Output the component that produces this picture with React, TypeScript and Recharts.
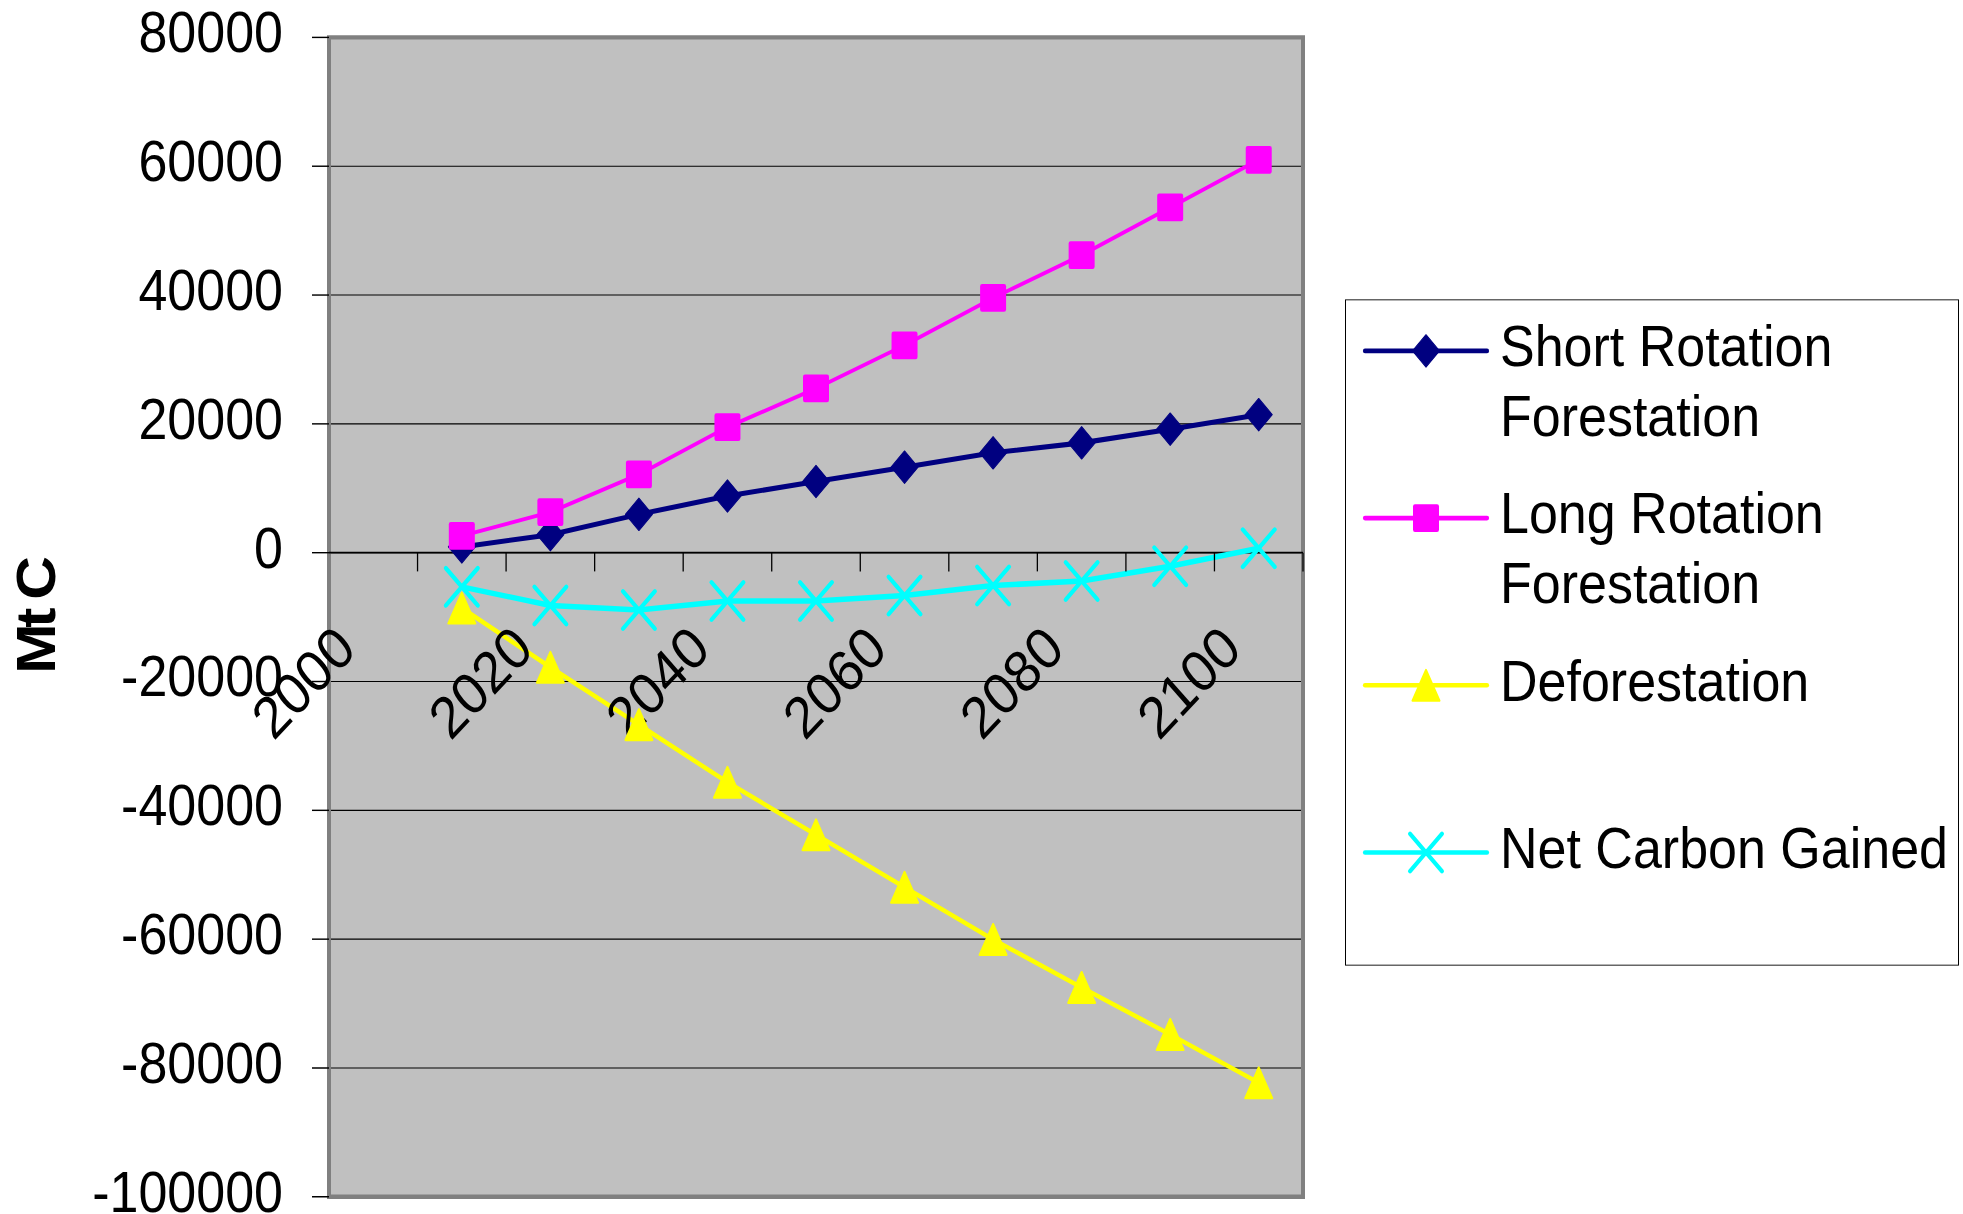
import React from 'react';
import {
  LineChart,
  Line,
  XAxis,
  YAxis,
  CartesianGrid,
  ReferenceLine,
  ReferenceDot,
  ReferenceArea,
  Legend,
} from 'recharts';

const FONT = '"Liberation Sans", Arial, Helvetica, sans-serif';

// carbon stocks per decade, Mt C
const years = [2010, 2020, 2030, 2040, 2050, 2060, 2070, 2080, 2090, 2100];
const shortRotation = [900, 2800, 5950, 8800, 11050, 13280, 15500, 17050, 19180, 21430];
const longRotation = [2600, 6300, 12150, 19500, 25500, 32200, 39550, 46200, 53600, 61000];
const deforestation = [-8600, -17800, -26700, -35650, -43800, -51950, -60050, -67500, -74800, -82300];
const netCarbon = [-5300, -8200, -8900, -7500, -7500, -6650, -5100, -4400, -2100, 700];

const seriesNames = [
  'Short Rotation Forestation',
  'Long Rotation Forestation',
  'Deforestation',
  'Net Carbon Gained',
];

const yTicks = [80000, 60000, 40000, 20000, 0, -20000, -40000, -60000, -80000, -100000];
const yearLabels = [2000, 2020, 2040, 2060, 2080, 2100];
const categoryEdges = [2005, 2015, 2025, 2035, 2045, 2055, 2065, 2075, 2085, 2095, 2105];
const xDomain = [1995, 2105];

// the whole sheet is drawn a bit squat and stretched back up
const STRETCH = 1.1;
const W = 1963;
const H = 1104;

const rows = years.map((year, i) => ({
  year,
  short: shortRotation[i],
  long: longRotation[i],
  defo: deforestation[i],
  net: netCarbon[i],
}));

type MarkerKind = 'diamond' | 'square' | 'triangle' | 'cross';

const series: { key: string; name: string; color: string; marker: MarkerKind; width: number }[] = [
  { key: 'short', name: seriesNames[0], color: '#000080', marker: 'diamond', width: 4.6 },
  { key: 'long', name: seriesNames[1], color: '#FF00FF', marker: 'square', width: 3.6 },
  { key: 'defo', name: seriesNames[2], color: '#FFFF00', marker: 'triangle', width: 4.2 },
  { key: 'net', name: seriesNames[3], color: '#00FFFF', marker: 'cross', width: 5 },
];

const Marker = ({ kind, cx, cy, color }: { kind: MarkerKind; cx: number; cy: number; color: string }) => {
  if (cx == null || cy == null) return null;
  switch (kind) {
    case 'diamond':
      return (
        <polygon
          points={`${cx},${cy - 14.7} ${cx + 13.5},${cy} ${cx},${cy + 14.7} ${cx - 13.5},${cy}`}
          fill={color}
          stroke={color}
          strokeWidth={1}
          strokeLinejoin="round"
        />
      );
    case 'square':
      return <rect x={cx - 13} y={cy - 12.6} width={26} height={25.2} rx={2} fill={color} />;
    case 'triangle':
      return (
        <polygon
          points={`${cx},${cy - 14} ${cx + 13.5},${cy + 14} ${cx - 13.5},${cy + 14}`}
          fill={color}
          stroke={color}
          strokeWidth={2}
          strokeLinejoin="round"
        />
      );
    default:
      return (
        <g stroke={color} strokeWidth={4} strokeLinecap="round">
          <line x1={cx - 16} y1={cy - 17} x2={cx + 16} y2={cy + 17} />
          <line x1={cx - 16} y1={cy + 17} x2={cx + 16} y2={cy - 17} />
        </g>
      );
  }
};

const YTick = ({ x, y, payload }: any) => (
  <text x={x} y={y - 4} textAnchor="end" dominantBaseline="central" fontSize={52} fill="#000" fontFamily={FONT}>
    {payload.value}
  </text>
);

const AxisTitle = ({ viewBox }: any) => {
  const x = viewBox.x + 36;
  const y = viewBox.y + viewBox.height / 2;
  return (
    <text
      x={x}
      y={y}
      transform={`rotate(-90 ${x} ${y})`}
      textAnchor="middle"
      dominantBaseline="central"
      fontSize={55}
      fontWeight="bold"
      letterSpacing={-4}
      fill="#000"
      fontFamily={FONT}
    >
      Mt C
    </text>
  );
};

// tick marks hang below the zero line, between categories
const EdgeTick = (p: any) => (
  <line x1={p.cx} y1={p.cy} x2={p.cx} y2={p.cy + 17} stroke="#000" strokeWidth={1.3} />
);

const YearLabel = ({ cx, cy, text }: any) => {
  const x = cx - 15;
  const y = cy + 90;
  return (
    <text x={x} y={y} transform={`rotate(-44 ${x} ${y})`} textAnchor="end" fontSize={53} fill="#000" fontFamily={FONT}>
      {text}
    </text>
  );
};

const wrapLabel = (label: string, max = 17) => {
  const out: string[] = [];
  label.split(' ').forEach((word) => {
    const last = out[out.length - 1];
    if (last && (last + ' ' + word).length <= max) out[out.length - 1] = last + ' ' + word;
    else out.push(word);
  });
  return out;
};

const legendRows = [47, 199, 351, 503];

// entries keep the series order rather than the legend's sorted payload
const LegendBox = () => (
  <svg width={614} height={606} style={{ display: 'block' }}>
    <rect x={0.5} y={0.5} width={613} height={605} fill="#fff" stroke="#000" strokeWidth={1} />
    {series.map((s, i) => {
      const y = legendRows[i];
      return (
        <g key={s.key}>
          <line x1={20} x2={142} y1={y} y2={y} stroke={s.color} strokeWidth={4.2} strokeLinecap="round" />
          <Marker kind={s.marker} cx={81} cy={y} color={s.color} />
          <text x={155} y={y + 14} fontSize={52} fill="#000" fontFamily={FONT}>
            {wrapLabel(s.name).map((ln, j) => (
              <tspan key={j} x={155} dy={j ? 63.6 : 0}>
                {ln}
              </tspan>
            ))}
          </text>
        </g>
      );
    })}
  </svg>
);

export default function App() {
  return (
    <div
      style={{
        position: 'absolute',
        left: 0,
        top: 0,
        width: W,
        height: H,
        background: '#fff',
        fontFamily: FONT,
        transform: `scaleY(${STRETCH})`,
        transformOrigin: '0 0',
      }}
    >
      <LineChart width={W} height={H} data={rows} margin={{ top: 34, right: 660, bottom: 16, left: 0 }}>
        <CartesianGrid vertical={false} stroke="#000" strokeWidth={1} fill="#C0C0C0" fillOpacity={1} />
        <XAxis dataKey="year" type="number" domain={xDomain} allowDataOverflow hide />
        <YAxis
          width={329}
          domain={[-100000, 80000]}
          ticks={yTicks}
          interval={0}
          allowDataOverflow
          axisLine={false}
          tickSize={17}
          tickMargin={29}
          tickLine={{ stroke: '#000', strokeWidth: 1.3 }}
          tick={<YTick />}
          label={AxisTitle}
        />
        <ReferenceArea
          x1={xDomain[0]}
          x2={xDomain[1]}
          y1={-100000}
          y2={80000}
          fill="none"
          fillOpacity={0}
          stroke="#808080"
          strokeWidth={4}
          ifOverflow="visible"
        />
        <ReferenceLine y={0} stroke="#000" strokeWidth={1.6} />
        {series.map((s) => (
          <Line
            key={s.key}
            type="linear"
            dataKey={s.key}
            name={s.name}
            stroke={s.color}
            strokeWidth={s.width}
            isAnimationActive={false}
            activeDot={false}
            dot={(p: any) => <Marker key={`${s.key}-${p.index}`} kind={s.marker} cx={p.cx} cy={p.cy} color={s.color} />}
          />
        ))}
        {categoryEdges.map((edge) => (
          <ReferenceDot key={`t${edge}`} x={edge} y={0} ifOverflow="visible" shape={EdgeTick} />
        ))}
        {yearLabels.map((yr) => (
          <ReferenceDot
            key={`l${yr}`}
            x={yr}
            y={0}
            ifOverflow="visible"
            shape={(p: any) => <YearLabel cx={p.cx} cy={p.cy} text={String(yr)} />}
          />
        ))}
        <Legend
          layout="vertical"
          align="center"
          verticalAlign="middle"
          content={LegendBox}
          wrapperStyle={{ left: 1345, top: 272, width: 614, height: 606 }}
        />
      </LineChart>
    </div>
  );
}
